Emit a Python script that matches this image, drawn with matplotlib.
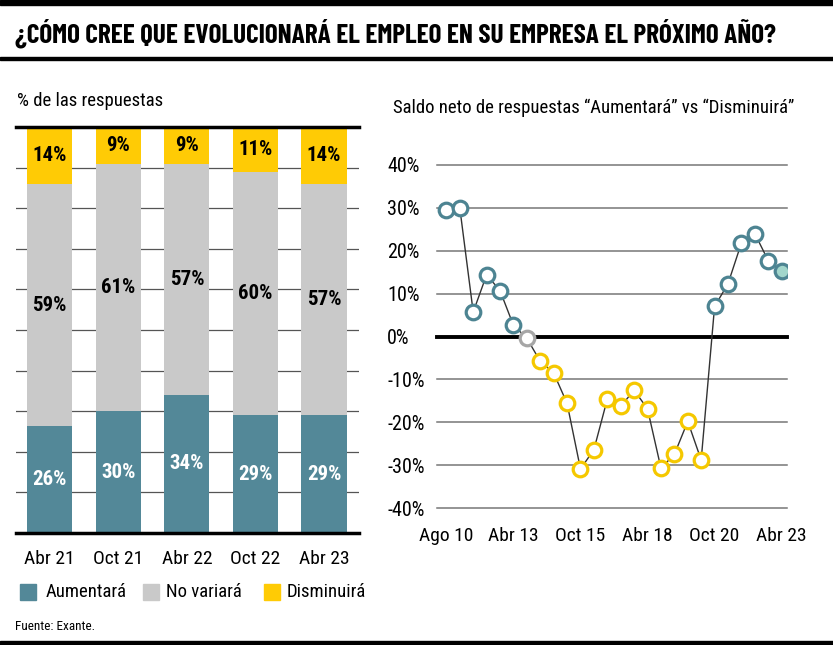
import matplotlib.pyplot as plt
import numpy as np
from matplotlib import font_manager as fm
from matplotlib.patches import Rectangle

disponibles = set(f.name for f in fm.fontManager.ttflist)


def elegir(prefs):
    for p in prefs:
        if p in disponibles:
            return p
    return "DejaVu Sans"


FUENTE = elegir(["Roboto Condensed", "Archivo Narrow", "Barlow Condensed", "Liberation Sans Narrow"])
FUENTE_TIT = elegir(["Barlow Condensed", "Roboto Condensed", "Archivo Narrow"])
plt.rcParams['font.family'] = [FUENTE, 'DejaVu Sans']

# datos barras apiladas
periodos = ["Abr 21", "Oct 21", "Abr 22", "Oct 22", "Abr 23"]
aumentara = [26, 30, 34, 29, 29]
no_variara = [59, 61, 57, 60, 57]
disminuira = [14, 9, 9, 11, 14]

# saldo neto (Aumentará - Disminuirá)
saldo = [29.6, 30.0, 5.7, 14.4, 10.7, 2.6, -0.4, -5.8, -8.5, -15.6, -30.9, -26.4, -14.6,
         -16.3, -12.5, -16.9, -30.7, -27.5, -19.8, -28.8, 7.0, 12.3, 21.8, 24.0, 17.7, 15.3]
saldo_ticks = [0, 5, 10, 15, 20, 25]
saldo_labels = ["Ago 10", "Abr 13", "Oct 15", "Abr 18", "Oct 20", "Abr 23"]

AZUL = "#538898"
GRIS = "#c9c9c9"
AMARILLO = "#ffcb05"

W, H = 833, 645
fig = plt.figure(figsize=(W / 100, H / 100), dpi=100)


def px(x0, y0, x1, y1):
    # caja en pixeles (origen arriba a la izquierda) -> fracciones de figura
    return [x0 / W, 1 - y1 / H, (x1 - x0) / W, (y1 - y0) / H]


def ajustar_ancho(t, ancho_px):
    r = fig.canvas.get_renderer()
    w = t.get_window_extent(r).width
    t.set_fontsize(t.get_fontsize() * ancho_px / w)


# marco y titulo
fig.add_artist(Rectangle((0, 1 - 5 / H), 1, 5 / H, color="black", transform=fig.transFigure))
fig.add_artist(Rectangle((0, 1 - 60 / H), 1, 3 / H, color="black", transform=fig.transFigure))
fig.add_artist(Rectangle((0, 0), 1, 4 / H, color="black", transform=fig.transFigure))
tit = fig.text(15 / W, 1 - 33 / H, "¿CÓMO CREE QUE EVOLUCIONARÁ EL EMPLEO EN SU EMPRESA EL PRÓXIMO AÑO?",
               fontsize=19, fontweight="bold", va="center", ha="left", family=[FUENTE_TIT, "DejaVu Sans"])
ajustar_ancho(tit, 758)
sub1 = fig.text(17 / W, 1 - 101 / H, "% de las respuestas", fontsize=13, va="center")
ajustar_ancho(sub1, 146)
sub2 = fig.text(393 / W, 1 - 108 / H, "Saldo neto de respuestas “Aumentará” vs “Disminuirá”",
                fontsize=13, va="center")
ajustar_ancho(sub2, 400)
fig.text(15 / W, 1 - 627 / H, "Fuente: Exante.", fontsize=9.5, va="center")

# ---- barras ----
ax1 = fig.add_axes(px(16, 127, 359, 533))
x = np.arange(len(periodos))
a = np.array(aumentara, float)
n = np.array(no_variara, float)
d = np.array(disminuira, float)
tot = a + n + d
a, n, d = a / tot * 100, n / tot * 100, d / tot * 100
ancho = 0.66
ax1.bar(x, a, ancho, color=AZUL, zorder=2)
ax1.bar(x, n, ancho, bottom=a, color=GRIS, zorder=2)
ax1.bar(x, d, ancho, bottom=a + n, color=AMARILLO, zorder=2)
for i in range(len(x)):
    ax1.text(x[i], a[i] / 2, f"{aumentara[i]}%", color="white", ha="center", va="center",
             fontsize=15, fontweight="bold", zorder=3)
    ax1.text(x[i], a[i] + n[i] / 2, f"{no_variara[i]}%", color="black", ha="center", va="center",
             fontsize=15, fontweight="bold", zorder=3)
    ax1.text(x[i], a[i] + n[i] + d[i] / 2, f"{disminuira[i]}%", color="black", ha="center",
             va="center", fontsize=15, fontweight="bold", zorder=3)
for yv in range(10, 100, 10):
    ax1.axhline(yv, color="#555555", lw=0.9, zorder=1)
ax1.axhline(100, color="black", lw=2.5, zorder=4, clip_on=False)
ax1.axhline(0, color="black", lw=2.5, zorder=4, clip_on=False)
ax1.set_xlim(-0.49, 4.51)
ax1.set_ylim(0, 100)
ax1.set_xticks(x)
ax1.set_xticklabels(periodos, fontsize=14)
ax1.tick_params(axis="x", length=0, pad=12)
ax1.set_yticks([])
for s in ax1.spines.values():
    s.set_visible(False)

# leyenda
for xs, xt, c, lab in [(20, 46, AZUL, "Aumentará"), (143, 166, GRIS, "No variará"),
                       (264, 287, AMARILLO, "Disminuirá")]:
    fig.add_artist(Rectangle((xs / W, 1 - 600 / H), 16 / W, 16 / H, color=c,
                             transform=fig.transFigure))
    fig.text(xt / W, 1 - 592 / H, lab, fontsize=13.5, va="center")

# ---- saldo neto ----
ax2 = fig.add_axes(px(437, 165, 787, 508))
xs = np.arange(len(saldo))
ax2.plot(xs, saldo, color="#333333", lw=1, zorder=2)
for i, v in enumerate(saldo):
    if v > 1:
        ec, fc = "#4d8492", "white"
    elif v < -1:
        ec, fc = "#f5c800", "white"
    else:
        ec, fc = "#a6a6a6", "white"
    if i == len(saldo) - 1:
        fc = "#a2d6cb"
    ax2.plot(i, v, "o", ms=10.5, mec=ec, mfc=fc, mew=2.3, zorder=3)
for yv in range(-40, 50, 10):
    if yv != 0:
        ax2.axhline(yv, color="#777777", lw=1.1, zorder=1, clip_on=False)
ax2.axhline(0, color="black", lw=2.8, zorder=1, clip_on=False)
ax2.set_xlim(-0.7, 25.4)
ax2.set_ylim(-40, 40)
ax2.set_yticks(range(-40, 50, 10))
ax2.set_yticklabels([f"{v}%" for v in range(-40, 50, 10)], fontsize=14.5, ha="left")
ax2.tick_params(axis="y", length=0, pad=36)
ax2.set_xticks(saldo_ticks)
ax2.set_xticklabels(saldo_labels, fontsize=14)
ax2.tick_params(axis="x", length=0, pad=14)
for s in ax2.spines.values():
    s.set_visible(False)

fig.savefig("out.png", dpi=100)
